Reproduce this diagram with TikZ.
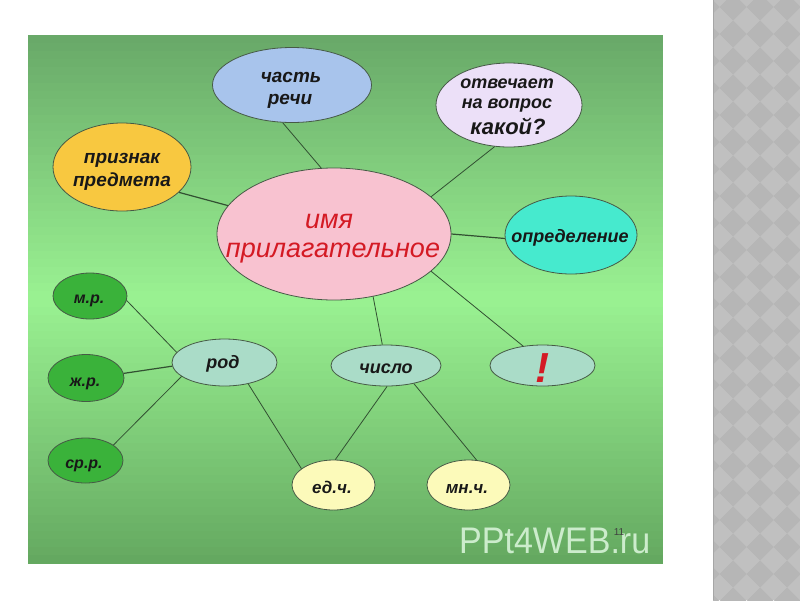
\documentclass[tikz,border=0pt]{standalone}
\usepackage{fontspec}
\setmainfont{Liberation Sans}
\usetikzlibrary{shapes.geometric}
\definecolor{panTop}{RGB}{104,168,104}
\definecolor{panMid}{RGB}{154,242,146}
\definecolor{panBot}{RGB}{100,168,96}
\definecolor{stripA}{RGB}{192,192,192}
\definecolor{stripB}{RGB}{182,182,182}
\definecolor{outl}{RGB}{70,90,70}
\definecolor{conn}{RGB}{50,80,50}
\definecolor{cBlue}{RGB}{168,196,236}
\definecolor{cLav}{RGB}{236,224,248}
\definecolor{cOrange}{RGB}{248,200,64}
\definecolor{cPink}{RGB}{248,194,208}
\definecolor{cCyan}{RGB}{70,234,206}
\definecolor{cGreen}{RGB}{58,178,58}
\definecolor{cTeal}{RGB}{170,220,200}
\definecolor{cYellow}{RGB}{252,250,186}
\definecolor{cRed}{RGB}{212,26,36}
\definecolor{txtc}{RGB}{24,24,24}
\definecolor{wm}{RGB}{204,236,204}
\begin{document}
\begin{tikzpicture}[x=1pt,y=-1pt,
  ell/.style={ellipse, draw=outl, line width=0.8pt, inner sep=0pt},
  lbl/.style={anchor=base, inner sep=0pt, text=txtc, font=\bfseries\itshape\fontsize{19}{22}\selectfont},
  sml/.style={lbl, font=\bfseries\itshape\fontsize{16}{19}\selectfont},
  mid/.style={lbl, font=\bfseries\itshape\fontsize{18}{21}\selectfont},
  big/.style={anchor=base, inner sep=0pt, text=cRed, font=\itshape\fontsize{27}{31}\selectfont},
  link/.style={draw=conn, line width=0.8pt}]
\useasboundingbox (0,0) rectangle (800,600);
\fill[white] (0,0) rectangle (800,600);
% grey diamond strip
\fill[stripA] (713,0) rectangle (800,600);
\begin{scope}
\clip (713,0) rectangle (800,600);
\foreach \i in {0,...,4}{
  \foreach \j in {-1,...,22}{
    \fill[stripB] (706+\i*27,7+\j*27-13.5) -- (719.5+\i*27,7+\j*27) -- (706+\i*27,7+\j*27+13.5) -- (692.5+\i*27,7+\j*27) -- cycle;
  }
}
\end{scope}
\draw[black!35, line width=0.8pt] (713.4,0) -- (713.4,600);
% green panel: vertical gradient built from thin bands
\foreach \k in {0,...,32}{
  \pgfmathsetmacro{\pc}{100*(\k+0.5)/33}
  \fill[panMid!\pc!panTop] (28,35+8*\k) rectangle (663,43.6+8*\k);
  \fill[panBot!\pc!panMid] (28,299+8*\k) rectangle (663,307.6+8*\k);
}
\fill[panBot] (28,555) rectangle (663,563);
% ellipses
\node[ell, fill=cPink, minimum width=234, minimum height=132] (C) at (334,234) {};
\node[ell, fill=cBlue, minimum width=159, minimum height=75] (P) at (292,85) {};
\node[ell, fill=cLav, minimum width=146, minimum height=84] (Q) at (509,105) {};
\node[ell, fill=cOrange, minimum width=138, minimum height=88] (R) at (122,167) {};
\node[ell, fill=cCyan, minimum width=132, minimum height=78] (D) at (571,235) {};
\node[ell, fill=cGreen, minimum width=74, minimum height=46] (M) at (90,296) {};
\node[ell, fill=cGreen, minimum width=76, minimum height=47] (Z) at (86,378) {};
\node[ell, fill=cGreen, minimum width=75, minimum height=45] (S) at (85.5,460.5) {};
\node[ell, fill=cTeal, minimum width=105, minimum height=47] (G) at (224.5,362.5) {};
\node[ell, fill=cTeal, minimum width=110, minimum height=41] (N) at (386,365.5) {};
\node[ell, fill=cTeal, minimum width=105, minimum height=41] (E) at (542.5,365.5) {};
\node[ell, fill=cYellow, minimum width=83, minimum height=50] (U) at (333.5,485) {};
\node[ell, fill=cYellow, minimum width=83, minimum height=50] (V) at (468.5,485) {};
% connectors
\draw[link] (C.101.6) -- (P.256.7);
\draw[link] (C.21.7) -- (Q.251.6);
\draw[link, line width=1.2pt] (C.165.8) -- (R.-24);
\draw[link, line width=1.2pt] (C.-0.5) -- (D.183);
\draw[link] (C.-58.9) -- (N.100.8);
\draw[link] (C.-21.7) -- (E.135);
\draw[link] (G.168.7) -- (M.-7.7);
\draw[link, line width=1.2pt] (G.184.4) -- (Z.7.5);
\draw[link] (G.198.4) -- (S.29);
\draw[link] (G.-42.5) -- (U.153);
\draw[link] (N.-87.5) -- (U.86.6);
\draw[link] (N.-33) -- (V.72.6);
% texts
\node[lbl] (tP1) at (291,82) {часть};
\node[lbl] (tP2) at (290,104) {речи};
\node[mid] (tQ1) at (507,88) {отвечает};
\node[mid] (tQ2) at (507,108) {на вопрос};
\node[lbl, font=\bfseries\itshape\fontsize{22}{26}\selectfont] (tQ3) at (508,134) {какой?};
\node[lbl] (tR1) at (122,163) {признак};
\node[lbl] (tR2) at (122,186) {предмета};
\node[big] (tC1) at (329,228) {имя};
\node[big] (tC2) at (333,257) {прилагательное};
\node[mid] (tD) at (570,242) {определение};
\node[mid] (tG) at (223,368) {род};
\node[mid] (tN) at (386,373) {число};
\node[anchor=base, inner sep=0pt, text=cRed, font=\bfseries\itshape\fontsize{42}{46}\selectfont] (tE) at (542,382) {!};
\node[sml] (tM) at (89,303) {м.р.};
\node[sml] (tZ) at (85,386) {ж.р.};
\node[sml] (tS) at (84,468) {ср.р.};
\node[mid, font=\bfseries\itshape\fontsize{17}{20}\selectfont] (tU) at (332,493) {ед.ч.};
\node[mid, font=\bfseries\itshape\fontsize{17}{20}\selectfont] (tV) at (467,493) {мн.ч.};
% watermark and slide number
\node[anchor=base west, inner sep=0pt, text=wm, font=\fontsize{37}{40}\selectfont, xscale=0.92] (wmk) at (459,553) {PPt4WEB.ru};
\node[anchor=base, inner sep=0pt, text=black!75, font=\fontsize{10}{12}\selectfont] (num) at (619,535) {11};
\end{tikzpicture}
\end{document}
